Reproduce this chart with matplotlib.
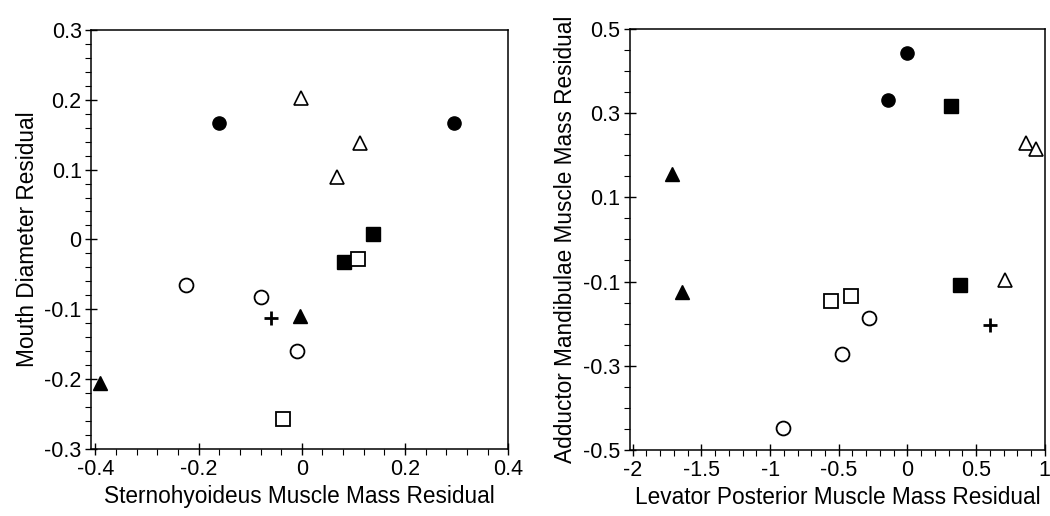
import matplotlib
matplotlib.use('Agg')
import matplotlib.pyplot as plt
from matplotlib.ticker import MultipleLocator, FuncFormatter

plt.rcParams['font.family'] = ['Liberation Sans', 'DejaVu Sans']
plt.rcParams['axes.unicode_minus'] = False

# marker groups
groups = ['filled_circle', 'open_circle', 'filled_square', 'open_square',
          'filled_triangle', 'open_triangle', 'cross']

# left panel: Sternohyoideus residual vs mouth diameter residual
left_x = {
    'filled_circle': [-0.161, 0.294],
    'open_circle': [-0.224, -0.080, -0.009],
    'filled_square': [0.138, 0.082],
    'open_square': [0.109, -0.036],
    'filled_triangle': [-0.003, -0.392],
    'open_triangle': [-0.002, 0.113, 0.068],
    'cross': [-0.059],
}
left_y = {
    'filled_circle': [0.167, 0.167],
    'open_circle': [-0.065, -0.083, -0.160],
    'filled_square': [0.008, -0.032],
    'open_square': [-0.028, -0.257],
    'filled_triangle': [-0.110, -0.206],
    'open_triangle': [0.202, 0.138, 0.090],
    'cross': [-0.112],
}

# right panel: Levator posterior residual vs adductor mandibulae residual
right_x = {
    'filled_circle': [-0.003, -0.142],
    'open_circle': [-0.283, -0.477, -0.907],
    'filled_square': [0.320, 0.380],
    'open_square': [-0.560, -0.414],
    'filled_triangle': [-1.713, -1.640],
    'open_triangle': [0.866, 0.934, 0.708],
    'cross': [0.599],
}
right_y = {
    'filled_circle': [0.443, 0.330],
    'open_circle': [-0.187, -0.273, -0.448],
    'filled_square': [0.316, -0.108],
    'open_square': [-0.146, -0.134],
    'filled_triangle': [0.156, -0.126],
    'open_triangle': [0.229, 0.215, -0.097],
    'cross': [-0.203],
}

styles = {
    'filled_circle': dict(marker='o', ms=9.5, mfc='black', mec='black'),
    'open_circle': dict(marker='o', ms=10, mfc='white', mec='black', mew=1.3),
    'filled_square': dict(marker='s', ms=9.5, mfc='black', mec='black'),
    'open_square': dict(marker='s', ms=9.5, mfc='white', mec='black', mew=1.3),
    'filled_triangle': dict(marker='^', ms=10, mfc='black', mec='black'),
    'open_triangle': dict(marker='^', ms=10, mfc='white', mec='black', mew=1.2),
    'cross': dict(marker='+', ms=10, mec='black', mew=2),
}


def fmt(v, pos):
    if abs(v) < 1e-9:
        return '0'
    return '{:g}'.format(round(v, 3))


def panel(ax, xs, ys, xlim, ylim, xmaj, xmin, ymaj, ymin, xlabel, ylabel):
    for g in groups:
        ax.plot(xs[g], ys[g], ls='none', clip_on=False, **styles[g])
    ax.set_xlim(*xlim)
    ax.set_ylim(*ylim)
    ax.xaxis.set_major_locator(MultipleLocator(xmaj))
    ax.xaxis.set_minor_locator(MultipleLocator(xmin))
    ax.yaxis.set_major_locator(MultipleLocator(ymaj))
    ax.yaxis.set_minor_locator(MultipleLocator(ymin))
    ax.xaxis.set_major_formatter(FuncFormatter(fmt))
    ax.yaxis.set_major_formatter(FuncFormatter(fmt))
    ax.tick_params(which='major', direction='inout', length=8, width=1,
                   labelsize=15.5, top=False, right=False, pad=3)
    ax.tick_params(which='minor', direction='out', length=4, width=0.8,
                   top=False, right=False)
    ax.set_xlabel(xlabel, fontsize=16.3, labelpad=4)
    ax.set_ylabel(ylabel, fontsize=16.3, labelpad=4)
    for s in ax.spines.values():
        s.set_linewidth(1.1)


fig = plt.figure(figsize=(10.5, 5.16), dpi=100)
ax1 = fig.add_axes([0.087, 0.130, 0.397, 0.812])
ax2 = fig.add_axes([0.600, 0.128, 0.395, 0.816])

panel(ax1, left_x, left_y, (-0.408, 0.4), (-0.3, 0.3), 0.2, 0.04, 0.1, 0.02,
      'Sternohyoideus Muscle Mass Residual', 'Mouth Diameter Residual')
panel(ax2, right_x, right_y, (-2.02, 1.0), (-0.5, 0.5), 0.5, 0.1, 0.2, 0.05,
      'Levator Posterior Muscle Mass Residual',
      'Adductor Mandibulae Muscle Mass Residual')
ax2.set_yticks([-0.5, -0.3, -0.1, 0.1, 0.3, 0.5])

fig.savefig('out.png', dpi=100)
